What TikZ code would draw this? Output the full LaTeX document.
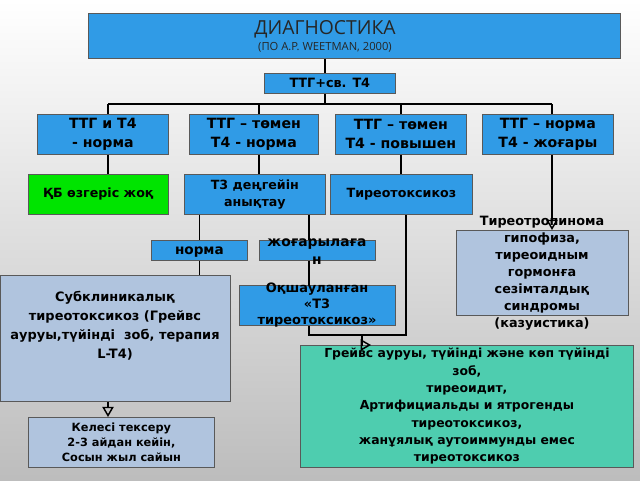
\documentclass[tikz,border=0pt]{standalone}
\usepackage{fontspec}
\setmainfont{DejaVu Sans}
\newfontfamily\headFont{Open Sans}
\usepackage{tikz}
\usetikzlibrary{shapes,arrows}
\usetikzlibrary{positioning,calc}

\definecolor{boxBlue}{RGB}{48,155,230}
\definecolor{boxGreen}{RGB}{0,228,0}
\definecolor{paleBlue}{RGB}{176,196,222}
\definecolor{tealFill}{RGB}{78,205,175}

\begin{document}
\begin{tikzpicture}[x=0.75pt,y=-0.75pt,every text node part/.style={align=center}]
\tikzset{sz/.style 2 args={minimum width=#1*0.75pt,minimum height=#2*0.75pt}}
\tikzset{myFont/.style={font=\bfseries\fontsize{10.6}{14.3}\selectfont}}
\tikzset{smallFont/.style={font=\bfseries\fontsize{9.5}{12.5}\selectfont}}
\tikzset{midFont/.style={font=\bfseries\fontsize{9.7}{12}\selectfont}}
\tikzset{myBox/.style={draw=black!65,line width=0.6pt,inner sep=0pt,anchor=north west}}
\tikzset{myBlue/.style={myBox,fill=boxBlue}}
\tikzset{myPale/.style={myBox,fill=paleBlue}}
\tikzset{myLine/.style={draw,line width=1.1pt}}

% background
\shade[top color=white,bottom color=black!26] (0,0) rectangle (640,480);
\useasboundingbox (0,0) rectangle (640,480);

\node[myBlue,sz={532}{45}] (diag) at (88,13) {};
\node[text=black!85,font=\headFont\fontsize{8.4}{12}\selectfont] (diagTxt) at (325,36)
  {{\fontsize{14.5}{12}\selectfont ДИАГНОСТИКА}\\(ПО A.P. WEETMAN, 2000)};
\node[myBlue,sz={131}{20},font=\bfseries\fontsize{9.6}{11}\selectfont] (ttg) at (264,73) {ТТГ+св. Т4};

\coordinate (busA) at (108,104);
\coordinate (busB) at (259,104);
\coordinate (busC) at (401,104);
\coordinate (busD) at (552,104);

% first row
\node[myBlue,myFont,sz={131}{40}] (ttgNorm) at (37,114) {ТТГ и Т4\\- норма};
\node[myBlue,myFont,sz={129}{40}] (ttgLowA) at (189,114) {ТТГ – төмен\\Т4 - норма};
\node[myBlue,myFont,sz={131}{40}] (ttgLowB) at (335,114) {ТТГ – төмен\\Т4 - повышен};
\node[myBlue,myFont,sz={131}{40}] (ttgHigh) at (482,114) {ТТГ – норма\\Т4 - жоғары};

% second row
\node[myBox,fill=boxGreen,smallFont,sz={140}{40}] (noChange) at (28,174) {ҚБ өзгеріс жоқ};
\node[myBlue,smallFont,sz={141}{40}] (tThree) at (184,174) {Т3 деңгейін\\анықтау};
\node[myBlue,smallFont,sz={142}{40}] (thyro) at (330,174) {Тиреотоксикоз};

% third row
\node[myBlue,font=\bfseries\fontsize{10.2}{12}\selectfont,text height=1.1ex,text depth=0pt,sz={96}{20}] (normaBox) at (151,240) {норма};
\node[myBlue,sz={116}{20}] (highBox) at (259,240) {};
\node[font=\bfseries\fontsize{10.4}{13.5}\selectfont] (highTxt) at (317,252) {жоғарылаға\\н};
\node[myBlue,sz={156}{40}] (isoBox) at (239,285) {};
\node[midFont] (isoTxt) at (317,305) {Оқшауланған\\«Т3\\тиреотоксикоз»};

\node[myPale,sz={230}{126}] (subBox) at (0,275) {};
\node[font=\bfseries\fontsize{9.7}{14.3}\selectfont] (subTxt) at (115,326)
  {Субклиникалық\\тиреотоксикоз (Грейвс\\ауруы,түйінді~~зоб, терапия\\L-T4)};
\node[myPale,font=\bfseries\fontsize{8.5}{11.25}\selectfont,sz={186}{50}] (nextBox) at (28,417)
  {Келесі тексеру\\2-3 айдан кейін,\\Сосын жыл сайын};

\node[myPale,sz={172}{85}] (tropBox) at (456,230) {};
\node[font=\bfseries\fontsize{9.6}{12.75}\selectfont] (tropTxt) at (542,273.5)
  {Тиреотропинома\\гипофиза,\\тиреоидным\\гормонға\\сезімталдық\\синдромы\\(казуистика)};

\node[myBox,fill=tealFill,font=\bfseries\fontsize{9.3}{13}\selectfont,sz={333}{122}] (graves) at (300,345)
  {Грейвс ауруы, түйінді және көп түйінді\\зоб,\\тиреоидит,\\Артифициальды и ятрогенды\\тиреотоксикоз,\\жанұялық аутоиммунды емес\\тиреотоксикоз};

\coordinate (joinL) at (309,335);
\coordinate (joinM) at (362,335);
\coordinate (joinR) at (406,335);

% connectors
\path[myLine] (diagTxt |- diag.south) edge (diagTxt |- ttg.north)
  (diagTxt |- ttg.south) edge (diagTxt |- busA)
  (busA) edge (busD)
  (busA) edge (busA |- ttgNorm.north)
  (busB) edge (busB |- ttgLowA.north)
  (busC) edge (busC |- ttgLowB.north)
  (busD) edge (busD |- ttgHigh.north);
\path[myLine] (busA |- ttgNorm.south) edge (busA |- noChange.north)
  (busB |- ttgLowA.south) edge (busB |- tThree.north)
  (busC |- ttgLowB.south) edge (busC |- thyro.north);
\draw[myLine,-open triangle 60] (busD |- ttgHigh.south) -- (busD |- tropBox.north);
\path[myLine] (normaBox.north |- tThree.south) edge (normaBox.north)
  (normaBox.south) edge (normaBox.south |- subBox.north)
  (joinL |- tThree.south) edge (joinL |- highBox.north)
  (joinL |- highBox.south) edge (joinL |- isoBox.north);
\draw[myLine] (joinL |- isoBox.south) -- (joinL) -- (joinR) -- (joinR |- thyro.south);
\draw[myLine,-open triangle 60] (joinM) |- ($(joinM |- graves.north)+(9,0)$);
\draw[myLine,-open triangle 60] (busA |- subBox.south) -- (busA |- nextBox.north);
\end{tikzpicture}
\end{document}
